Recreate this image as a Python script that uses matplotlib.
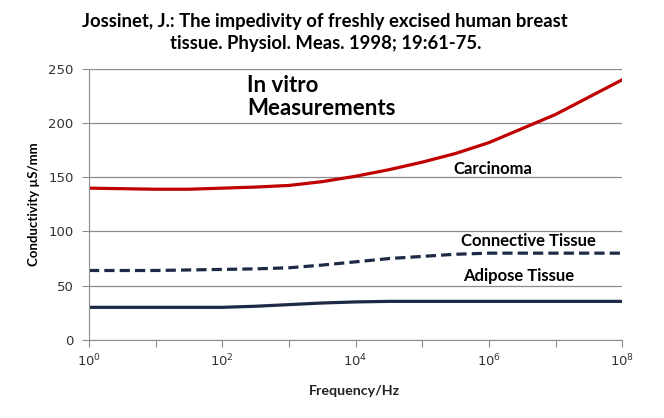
import numpy as np
import matplotlib.pyplot as plt
from matplotlib.ticker import FixedLocator

# frequency in Hz, half-decade steps
freq = [1e0, 3.16e0, 1e1, 3.16e1, 1e2, 3.16e2, 1e3, 3.16e3, 1e4,
        3.16e4, 1e5, 3.16e5, 1e6, 3.16e6, 1e7, 3.16e7, 1e8]
carcinoma = [140, 139.5, 139, 139, 140, 141, 142.5, 146, 151,
             157, 164, 172, 182, 195, 208, 224, 240]
connective = [64, 64, 64, 64.5, 65, 65.5, 66.5, 69, 72,
              75, 77, 79, 80, 80, 80, 80, 80]
adipose = [30, 30, 30, 30, 30, 31, 32.5, 34, 35,
           35.5, 35.5, 35.5, 35.5, 35.5, 35.5, 35.5, 35.5]

title = "Jossinet, J.: The impedivity of freshly excised human breast\ntissue. Physiol. Meas. 1998; 19:61-75."

plt.rcParams['font.family'] = ['Lato', 'DejaVu Sans']
plt.rcParams['mathtext.fontset'] = 'dejavusans'

fig = plt.figure(figsize=(6.64, 4.18), dpi=100)
ax = fig.add_axes([0.134, 0.187, 0.803, 0.648])

red = '#C00000'
navy = '#1C2A45'
ax.plot(freq, carcinoma, color=red, lw=2.3, solid_joinstyle='round')
ax.plot(freq, connective, color=navy, lw=2.3, ls=(0, (3.2, 1.6)))
ax.plot(freq, adipose, color=navy, lw=2.3, solid_joinstyle='round')

ax.set_xscale('log')
ax.set_xlim(1, 1e8)
ax.set_ylim(0, 250)
ax.set_yticks(range(0, 251, 50))
ax.yaxis.grid(True, color='#8c8c8c', lw=0.9)
ax.set_axisbelow(True)

ax.xaxis.set_major_locator(FixedLocator([10.0**k for k in range(0, 9)]))
ax.xaxis.set_minor_locator(FixedLocator([]))
ax.set_xticklabels(['$10^{%d}$' % k if k % 2 == 0 else '' for k in range(0, 9)])

for s in ['top', 'right']:
    ax.spines[s].set_visible(False)
for s in ['left', 'bottom']:
    ax.spines[s].set_color('#8c8c8c')
ax.tick_params(axis='x', direction='out', length=5, color='#8c8c8c',
               labelsize=9.5, labelcolor='#333333', pad=4)
ax.tick_params(axis='y', direction='out', length=5, color='#8c8c8c',
               labelsize=9.5, labelcolor='#333333', pad=6)
for lbl in ax.get_yticklabels() + ax.get_xticklabels():
    lbl.set_family('DejaVu Sans')

fig.text(0.49, 0.922, title, ha='center', va='center', multialignment='center',
         fontsize=13.3, fontweight='bold', linespacing=1.38)
fig.text(0.372, 0.769, 'In vitro\nMeasurements', ha='left', va='center',
         multialignment='left', fontsize=16, fontweight='bold', linespacing=1.12)

ax.text(1.15e6, 157.7, 'Carcinoma', ha='center', va='center', fontsize=12, fontweight='bold')
ax.text(3.9e6, 91.3, 'Connective Tissue', ha='center', va='center', fontsize=12, fontweight='bold')
ax.text(2.8e6, 59, 'Adipose Tissue', ha='center', va='center', fontsize=12, fontweight='bold')

ax.set_ylabel('Conductivity \u00b5S/mm', fontsize=9.5, fontweight='bold', labelpad=10)
ax.yaxis.set_label_coords(-0.092, 0.5)
fig.text(0.534, 0.065, 'Frequency/Hz', ha='center', va='center', fontsize=10.3,
         fontweight='bold', color='#222222')

fig.savefig('out.png', dpi=100)
